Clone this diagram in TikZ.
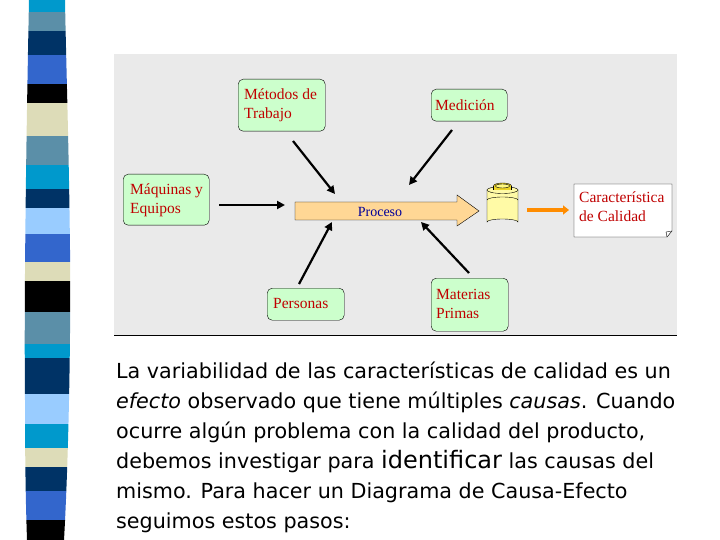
\documentclass[tikz,border=0pt]{standalone}
\usepackage{fontspec}
\setmainfont{Liberation Serif}
\newfontfamily\bodyf{DejaVu Sans}
\usetikzlibrary{arrows.meta}
\definecolor{sc}{HTML}{0099CC}\definecolor{sg}{HTML}{5B8FA8}\definecolor{sn}{HTML}{003366}
\definecolor{sr}{HTML}{3366CC}\definecolor{sb}{HTML}{DDDCB8}\definecolor{sl}{HTML}{99CCFF}
\definecolor{panel}{HTML}{EAEAEA}\definecolor{boxg}{HTML}{CCFFCC}\definecolor{txr}{HTML}{C00000}
\tikzset{cause/.style={draw=black,fill=boxg,rounded corners=5pt,anchor=north west,inner sep=0pt},
 barrow/.style={-{Triangle[length=8pt,width=8pt]},line width=2.2pt},
 lbl/.style={text=txr,font=\fontsize{15.5}{19}\selectfont,align=left,anchor=west,inner sep=0pt}}
\begin{document}
\begin{tikzpicture}[x=1pt,y=-1pt]
\useasboundingbox (0,0) rectangle (720,540);
\fill[white] (0,0) rectangle (720,540);
% stripe
\begin{scope}
\clip (29,0) .. controls (26,150) and (24,300) .. (25,400) .. controls (25,470) and (26,510) .. (27,540) -- (64,540) .. controls (68,470) and (71,350) .. (70,250) .. controls (69,150) and (66,60) .. (65,0) -- cycle;
\foreach \a/\b/\c in {0/12/sc,12/31/sg,31/55/sn,55/84/sr,84/103/black,103/136/sb,136/165/sg,165/189/sc,189/208/sn,208/234/sl,234/262/sr,262/281/sb,281/312/black,312/344/sg,344/358/sc,358/394/sn,394/424/sl,424/448/sc,448/467/sb,467/491/sn,491/520/sr,520/540/black}
  \fill[\c] (0,\a) rectangle (100,\b);
\end{scope}
% panel
\fill[panel] (114,54) rectangle (677,335);
\draw[line width=1pt] (114,335.5) -- (677,335.5);
% boxes
\node[cause,minimum width=87pt,minimum height=52pt] (met) at (238,79) {};
\node[lbl] (tmet) at (244,105) {Métodos de\\Trabajo};
\node[cause,minimum width=76pt,minimum height=32pt] (med) at (431,89) {};
\node[lbl] (tmed) at (435,105) {Medición};
\node[cause,minimum width=86pt,minimum height=51pt] (maq) at (123,174) {};
\node[lbl] (tmaq) at (130,200) {Máquinas y\\Equipos};
\node[cause,minimum width=77pt,minimum height=32pt] (per) at (267,288) {};
\node[lbl] (tper) at (273,304) {Personas};
\node[cause,minimum width=77pt,minimum height=53pt] (mat) at (431,278) {};
\node[lbl] (tmat) at (436,304) {Materias\\Primas};
% characteristic document
\draw[fill=white] (574,184) -- (672,184) -- (672,231) -- (667,237) -- (574,237) -- cycle;
\draw (672,231) -- (666,232) -- (667,237);
\node[lbl] (car) at (579,207) {Característica\\de Calidad};
% process arrow
\draw[fill=orange!35!white!90!yellow] (295,202) -- (457,202) -- (457,195) -- (479,211) -- (457,226) -- (457,220) -- (295,220) -- cycle;
\node[text=blue!60!black,font=\fontsize{14}{15}\selectfont,inner sep=0pt] (pro) at (380,212) {Proceso};
% jar
\draw[fill=yellow!35] (487,190) -- (487,222) arc[start angle=180,end angle=360,x radius=15.5,y radius=3] -- (518,190);
\draw[fill=yellow!35] (502.5,190) ellipse[x radius=15.5,y radius=3.5];
\draw (487,200) arc[start angle=180,end angle=360,x radius=15.5,y radius=3];
\draw[fill=yellow!70!brown] (502.5,186) ellipse[x radius=9,y radius=3];
\fill[yellow!70!brown] (493.5,186) rectangle (511.5,190);
\draw (493.5,186) -- (493.5,190) (511.5,186)--(511.5,190);
\draw[fill=yellow!50] (502.5,186) ellipse[x radius=7,y radius=2];
% arrows
\coordinate (a1) at (293,141); \coordinate (a2) at (335,194);
\coordinate (b1) at (452,130); \coordinate (b2) at (409,185);
\coordinate (c1) at (219,205); \coordinate (c2) at (285,205);
\coordinate (d1) at (299,284); \coordinate (d2) at (332,222);
\coordinate (e1) at (469,273); \coordinate (e2) at (421,222);
\foreach \s/\t in {a1/a2,b1/b2,c1/c2,d1/d2,e1/e2} \draw[barrow] (\s) -- (\t);
\coordinate (o1) at (527,210); \coordinate (o2) at (569,210);
\draw[-{Triangle[length=6pt,width=9pt]},line width=3.5pt,orange!90!yellow] (o1) -- (o2);
% body text
\node[anchor=north west,inner sep=0pt,align=left,font=\bodyf\fontsize{20.7}{30}\selectfont] (txt) at (116,362) {La variabilidad de las características de calidad es un\\
\textit{efecto} observado que tiene múltiples \textit{causas}. Cuando\\
ocurre algún problema con la calidad del producto,\\
debemos investigar para {\fontsize{24}{30}\selectfont identificar} las causas del\\
mismo. Para hacer un Diagrama de Causa-Efecto\\
seguimos estos pasos:};
\end{tikzpicture}
\end{document}
